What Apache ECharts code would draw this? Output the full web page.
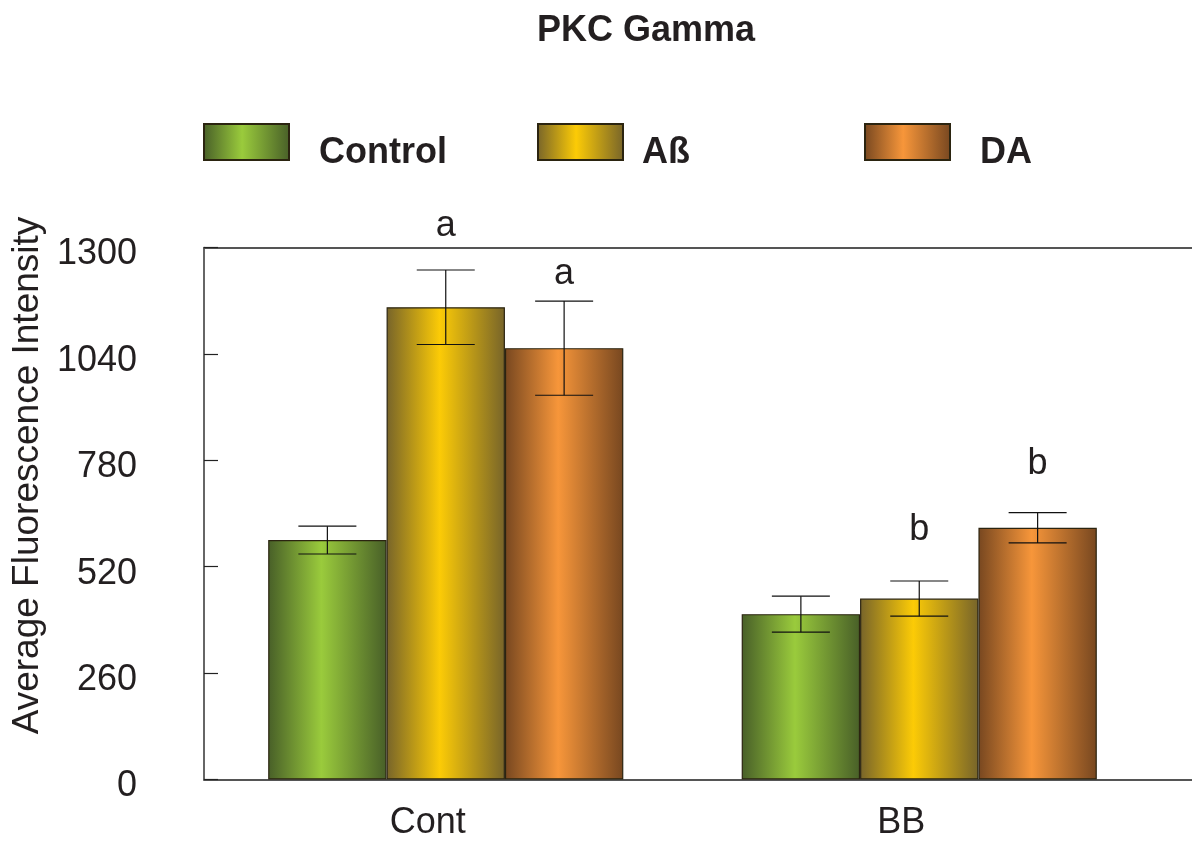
<!DOCTYPE html>
<html>
<head>
<meta charset="utf-8">
<script src="https://cdn.jsdelivr.net/npm/echarts@6/dist/echarts.min.js"></script>
<style>html,body{margin:0;padding:0;background:#fff}#c{width:1192px;height:841px}</style>
</head>
<body>
<div id="c"></div>
<script>
var categories = ['Cont', 'BB'];
var seriesNames = ['Control', 'Aß', 'DA'];
var controlValues = [585, 404];
var abetaValues = [1154, 442];
var daValues = [1054, 615];
var controlErr = [34, 44];
var abetaErr = [91, 43];
var daErr = [115, 37];
var abetaLetters = ['a', 'b'];
var daLetters = ['a', 'b'];
var abetaLetterPos = [1308, 566];
var daLetterPos = [1191, 726];
var yTicks = [0, 260, 520, 780, 1040, 1300];

var FONT = '"Liberation Sans", Arial, sans-serif';
var TXT = '#231f20';

function grad(dark, light) {
  return new echarts.graphic.LinearGradient(0, 0, 1, 0, [
    {offset: 0, color: dark}, {offset: 0.45, color: light}, {offset: 1, color: dark}
  ]);
}
var fills = [grad('#485f28', '#9acb3c'), grad('#77642a', '#fccb06'), grad('#774720', '#f7963a')];
var values = [controlValues, abetaValues, daValues];
var errs = [controlErr, abetaErr, daErr];

var series = [];
values.forEach(function (v, k) {
  series.push({
    name: seriesNames[k], type: 'bar', xAxisIndex: 0, yAxisIndex: 0, z: 2,
    data: v, barGap: 0, barCategoryGap: '25%',
    itemStyle: {color: fills[k], borderColor: '#2b2410', borderWidth: 1.2}
  });
});
values.forEach(function (v, k) {
  series.push({
    type: 'custom', xAxisIndex: 0, yAxisIndex: 0, clip: false, silent: true, z: 10,
    data: v.map(function (val, i) { return [i, val, errs[k][i]]; }),
    renderItem: function (params, api) {
      var i = api.value(0), val = api.value(1), e = api.value(2);
      var W = api.size([1, 0])[0];
      var bw = W * 0.75 / 3;
      var c = api.coord([i, val]);
      var x = c[0] - 1.5 * bw + bw * (k + 0.5);
      var top = api.coord([i, val + e])[1];
      var bot = api.coord([i, val - e])[1];
      var hw = bw * 0.245;
      var st = {stroke: '#111', lineWidth: 1.2};
      return {type: 'group', children: [
        {type: 'line', shape: {x1: x, y1: top, x2: x, y2: bot}, style: st},
        {type: 'line', shape: {x1: x - hw, y1: top, x2: x + hw, y2: top}, style: st},
        {type: 'line', shape: {x1: x - hw, y1: bot, x2: x + hw, y2: bot}, style: st}
      ]};
    }
  });
});
[[abetaLetters, abetaLetterPos, 1], [daLetters, daLetterPos, 2]].forEach(function (d) {
  var k = d[2];
  series.push({
    type: 'custom', xAxisIndex: 0, yAxisIndex: 0, clip: false, silent: true, z: 10,
    data: d[0].map(function (t, i) { return [i, d[1][i], t]; }),
    renderItem: function (params, api) {
      var i = api.value(0);
      var W = api.size([1, 0])[0];
      var bw = W * 0.75 / 3;
      var c = api.coord([i, api.value(1)]);
      var x = c[0] - 1.5 * bw + bw * (k + 0.5);
      return {type: 'text', x: x, y: c[1], style: {
        text: d[0][params.dataIndex], fill: TXT, font: '36px ' + FONT,
        textAlign: 'center', textVerticalAlign: 'bottom'
      }};
    }
  });
});

function legendFor(idx, left, gap) {
  return {
    data: [seriesNames[idx]], left: left, top: 123, padding: 0, itemWidth: 85, itemHeight: 36,
    icon: 'rect', selectedMode: false,
    formatter: '{t|{name}}',
    textStyle: {fontFamily: FONT, fontSize: 36, fontWeight: 'bold', color: TXT,
      rich: {t: {fontFamily: FONT, fontSize: 36, fontWeight: 'bold', color: TXT, padding: [22, 0, 0, gap]}}}
  };
}

var option = {
  animation: false,
  backgroundColor: '#fff',
  title: {text: 'PKC Gamma', left: 532, top: 8,
    textStyle: {fontFamily: FONT, fontSize: 36, fontWeight: 'bold', color: TXT}},
  legend: [legendFor(0, 203, 25), legendFor(1, 537, 14), legendFor(2, 864, 25)],
  grid: [
    {left: 209, right: 36, top: 247.5, bottom: 61.5, outerBoundsMode: 'none', containLabel: false},
    {left: 204, right: 0, top: 247.5, bottom: 61.5, outerBoundsMode: 'none', containLabel: false}
  ],
  xAxis: [
    {type: 'category', gridIndex: 0, data: categories,
     axisLine: {show: false}, axisTick: {show: false},
     axisLabel: {fontFamily: FONT, fontSize: 36, color: TXT, margin: 26, padding: [0, 36, 0, 0]}},
    {type: 'value', gridIndex: 1, position: 'bottom', min: 0, max: 1,
     axisLine: {show: true, lineStyle: {color: '#555', width: 2}},
     axisTick: {show: false}, axisLabel: {show: false}, splitLine: {show: false}},
    {type: 'value', gridIndex: 1, position: 'top', min: 0, max: 1,
     axisLine: {show: true, lineStyle: {color: '#555', width: 2}},
     axisTick: {show: false}, axisLabel: {show: false}, splitLine: {show: false}}
  ],
  yAxis: [
    {type: 'value', gridIndex: 0, min: 0, max: 1300, interval: 260, show: false},
    {type: 'value', gridIndex: 1, min: yTicks[0], max: yTicks[yTicks.length - 1], interval: 260,
     name: 'Average Fluorescence Intensity', nameLocation: 'middle', nameGap: 156,
     nameTextStyle: {fontFamily: FONT, fontSize: 37, color: TXT, padding: [0, 0, 0, 76]},
     axisLine: {show: true, lineStyle: {color: '#333', width: 1.5}},
     axisTick: {show: true, inside: true, length: 14, lineStyle: {color: '#222', width: 1.2}},
     axisLabel: {fontFamily: FONT, fontSize: 36, color: TXT, margin: 67,
       verticalAlign: 'top', lineHeight: 14,
       formatter: function (v) { return String(v); }},
     splitLine: {show: false}}
  ],
  series: series
};
var chart = echarts.init(document.getElementById('c'), null, {renderer: 'canvas'});
chart.setOption(option);
</script>
</body>
</html>
